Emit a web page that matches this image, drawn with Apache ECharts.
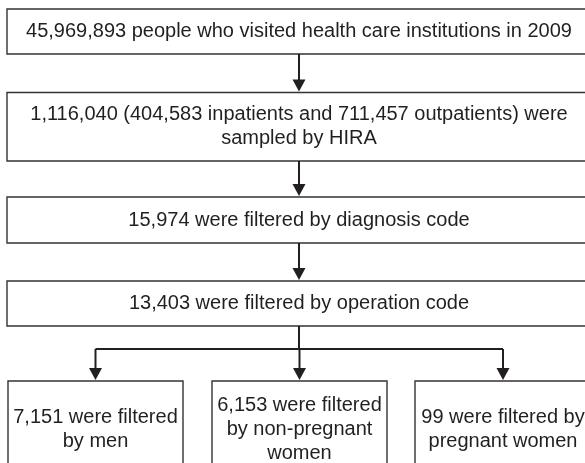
<!DOCTYPE html>
<html>
<head>
<meta charset="utf-8">
<script src="https://cdn.jsdelivr.net/npm/echarts@6/dist/echarts.min.js"></script>
<style>html,body{margin:0;padding:0;background:#fff}#c{width:585px;height:463px}</style>
</head>
<body>
<div id="c"></div>
<script>
// ---- content ----
const mainLabels = [
  "45,969,893 people who visited health care institutions in 2009",
  "1,116,040 (404,583 inpatients and 711,457 outpatients) were\nsampled by HIRA",
  "15,974 were filtered by diagnosis code",
  "13,403 were filtered by operation code"
];
const branchLabels = [
  "7,151 were filtered\nby men",
  "6,153 were filtered\nby non-pregnant\nwomen",
  "99 were filtered by\npregnant women"
];

// ---- layout (chart units = pixels of the reference) ----
const mainX = [7, 591];
const mainY = [[9, 54], [92.5, 161], [197, 243], [281, 326]];
const branchX = [[8, 183], [212, 387], [415, 591]];
const branchY = [381, 478];
const trunkX = 299;
const busY = 349;

const boxes = [];
mainLabels.forEach((t, i) => boxes.push([mainX[0], mainY[i][0], mainX[1], mainY[i][1], t]));
branchLabels.forEach((t, i) => boxes.push([branchX[i][0], branchY[0], branchX[i][1], branchY[1], t]));

const arrows = []; // [x1,y1,x2,y2,head]
for (let i = 0; i < mainY.length - 1; i++) arrows.push([trunkX, mainY[i][1], trunkX, mainY[i + 1][0], 1]);
arrows.push([trunkX, mainY[3][1], trunkX, busY, 0]);
const centers = branchX.map(b => (b[0] + b[1]) / 2);
arrows.push([centers[0], busY, centers[2], busY, 0]);
centers.forEach(cx => arrows.push([cx, busY, cx, branchY[0], 1]));

const INK = '#231f20';
const FONT = '20px "Liberation Sans", Arial, sans-serif';

const chart = echarts.init(document.getElementById('c'));
chart.setOption({
  animation: false,
  grid: {left: 0, right: 0, top: 0, bottom: 0},
  xAxis: {type: 'value', min: 0, max: 585, show: false},
  yAxis: {type: 'value', min: 0, max: 463, inverse: true, show: false},
  series: [
    {
      type: 'custom', clip: false,
      data: boxes,
      renderItem: function (params, api) {
        const p0 = api.coord([api.value(0), api.value(1)]);
        const p1 = api.coord([api.value(2), api.value(3)]);
        const txt = boxes[params.dataIndex][4];
        const cx = (p0[0] + p1[0]) / 2;
        return {
          type: 'group',
          children: [
            {type: 'rect', shape: {x: p0[0], y: p0[1], width: p1[0] - p0[0], height: p1[1] - p0[1]},
             style: {fill: '#fff', stroke: '#333', lineWidth: 1.4}},
            {type: 'text', style: {text: txt, x: (params.dataIndex < 4) ? trunkX : cx,
              y: (p0[1] + p1[1]) / 2, align: 'center', verticalAlign: 'middle',
              font: FONT, lineHeight: 24, fill: INK}}
          ]
        };
      }
    },
    {
      type: 'custom', clip: false,
      data: arrows,
      renderItem: function (params, api) {
        const a = api.coord([api.value(0), api.value(1)]);
        const b = api.coord([api.value(2), api.value(3)]);
        const head = api.value(4);
        const ch = [{type: 'line', shape: {x1: a[0], y1: a[1], x2: b[0], y2: head ? b[1] - 8 : b[1]},
          style: {stroke: INK, lineWidth: 2}}];
        if (head) {
          ch.push({type: 'polygon', shape: {points: [[b[0] - 6.5, b[1] - 13], [b[0] + 6.5, b[1] - 13], [b[0], b[1] - 1]]},
            style: {fill: INK}});
        }
        return {type: 'group', children: ch};
      }
    }
  ]
});
</script>
</body>
</html>
